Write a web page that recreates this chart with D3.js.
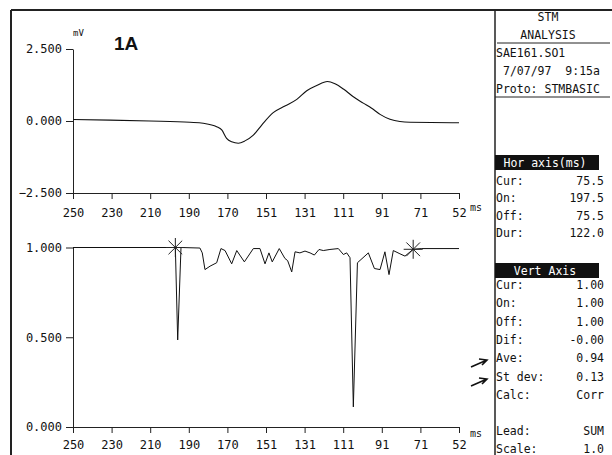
<!DOCTYPE html>
<html>
<head>
<meta charset="UTF-8">
<title>STM analysis 1A</title>
<script src="https://cdn.jsdelivr.net/npm/d3@7"></script>
<style>
body {
  margin: 0;
  background: #fff;
}
text {
  font-family: "DejaVu Sans Mono", monospace;
  fill: #111;
  white-space: pre;
}
.axis path, .axis line {
  stroke: #222;
  stroke-width: 1px;
}
.axis text {
  font-size: 12px;
  fill: #111;
}
.trace {
  fill: none;
  stroke: #111;
  stroke-width: 1.1px;
}
.frame {
  stroke: #222;
  fill: none;
}
.panel text {
  font-size: 11.5px;
}
</style>
</head>
<body>
<svg id="chart" width="612" height="455"></svg>
<script>
// upper trace: signal (mV) against time (ms)
var topMs = [250, 231.0, 210.5, 190.0, 183.2, 176.3, 173.7, 171.2, 168.6, 165.2, 161.8, 157.5, 153.2, 147.3,
  141.3, 135.2, 130.1, 125.0, 119.5, 115.6, 111.3, 106.2, 101.1, 96.8, 92.5, 87.4, 82.3, 77.1, 52];
var topMv = [0.05, 0.03, 0.0, -0.045, -0.08, -0.20, -0.31, -0.60, -0.72, -0.77, -0.69, -0.49, -0.14, 0.29,
  0.52, 0.75, 1.05, 1.23, 1.37, 1.29, 1.11, 0.84, 0.62, 0.44, 0.23, 0.06, -0.02, -0.045, -0.06];

// lower trace: correlation against time (ms)
var corrMs = [250, 197.5, 196.3, 194.6, 184.9, 183.7, 182.3, 179.7, 176.3, 174.1, 172.0, 168.6, 166.0, 162.1,
  157.5, 154.1, 151.5, 149.5, 147.8, 144.2, 141.3, 139.9, 137.8, 136.1, 133.6, 131.0, 128.4, 126.2, 123.8,
  121.6, 118.2, 113.9, 111.3, 109.6, 107.9, 106.2, 104.1, 98.5, 95.4, 92.5, 90.0, 87.9, 85.7, 82.3, 79.7,
  75.5, 71.1, 52];
var corrVal = [1.0, 1.0, 0.485, 1.0, 0.997, 0.97, 0.877, 0.896, 0.915, 0.994, 0.983, 0.909, 0.983, 0.920,
  0.994, 0.994, 0.909, 0.970, 0.920, 0.994, 0.939, 0.927, 0.864, 0.976, 0.970, 0.980, 0.970, 0.958, 0.989,
  0.983, 0.989, 0.994, 0.961, 0.970, 0.943, 0.112, 0.915, 0.970, 0.883, 0.877, 0.976, 0.849, 0.983, 0.965, 0.952,
  0.99, 0.994, 0.994];

// on / off cursors
var markMs = [197.5, 75.5];
var markVal = [1.0, 0.99];

var xTickLabels = ["250", "230", "210", "190", "170", "151", "131", "111", "91", "71", "52"];
var topYTicks = [2.5, 0, -2.5];
var bottomYTicks = [1, 0.5, 0];

var horLabels = ["Cur:", "On:", "Off:", "Dur:"];
var horValues = ["75.5", "197.5", "75.5", "122.0"];
var vertLabels = ["Cur:", "On:", "Off:", "Dif:", "Ave:", "St dev:", "Calc:"];
var vertValues = ["1.00", "1.00", "1.00", "-0.00", "0.94", "0.13", "Corr"];
var leadLabels = ["Lead:", "Scale:"];
var leadValues = ["SUM", "1.0"];

var svg = d3.select("#chart");

var x = d3.scaleLinear().domain([250, 52]).range([73, 459]),
  yTop = d3.scaleLinear().domain([-2.5, 2.5]).range([193, 49]),
  yBot = d3.scaleLinear().domain([0, 1]).range([427, 247.5]);

var xTickVals = xTickLabels.map(function(d, i){ return 250 - i * (250 - 52) / (xTickLabels.length - 1); });

// frame
svg.append("line").attr("class", "frame").attr("x1", 11).attr("x2", 612).attr("y1", 10).attr("y2", 10).style("stroke-width", 2);
svg.append("line").attr("class", "frame").attr("x1", 11).attr("x2", 11).attr("y1", 10).attr("y2", 455).style("stroke-width", 2);
svg.append("line").attr("class", "frame").attr("x1", 495).attr("x2", 495).attr("y1", 10).attr("y2", 455).style("stroke-width", 1.5);

// axes
function xAxis(y0, pad){
  svg.append("g")
    .attr("class", "axis")
    .attr("transform", "translate(0," + y0 + ")")
    .call(d3.axisBottom(x).tickValues(xTickVals).tickSize(6).tickSizeOuter(0).tickPadding(pad)
      .tickFormat(function(d, i){ return xTickLabels[i]; }));
}
function yAxis(scale, ticks){
  svg.append("g")
    .attr("class", "axis")
    .attr("transform", "translate(73,0)")
    .call(d3.axisLeft(scale).tickValues(ticks).tickSize(7).tickSizeOuter(0).tickPadding(4)
      .tickFormat(d3.format(".3f")));
}
xAxis(193, 9);
yAxis(yTop, topYTicks);
xAxis(427, 7);
yAxis(yBot, bottomYTicks);

// traces
svg.append("path")
  .attr("class", "trace")
  .attr("d", d3.line()
    .curve(d3.curveMonotoneX)
    .x(function(d, i){ return x(topMs[i]); })
    .y(function(d, i){ return yTop(topMv[i]); })
    (topMs));

svg.append("path")
  .attr("class", "trace")
  .style("stroke-width", "1px")
  .attr("d", d3.line()
    .x(function(d, i){ return x(corrMs[i]); })
    .y(function(d, i){ return yBot(corrVal[i]); })
    (corrMs));

// asterisk cursors
svg.selectAll(".mark")
  .data(markMs)
  .enter().append("path")
  .attr("class", "mark")
  .style("stroke", "#222")
  .style("stroke-width", 1)
  .attr("d", function(d, i){
    var cx = x(d), cy = yBot(markVal[i]), r = 9.5, q = r * 0.72, p = d3.path();
    p.moveTo(cx - r, cy); p.lineTo(cx + r, cy);
    p.moveTo(cx, cy - r); p.lineTo(cx, cy + r);
    p.moveTo(cx - q, cy - q); p.lineTo(cx + q, cy + q);
    p.moveTo(cx - q, cy + q); p.lineTo(cx + q, cy - q);
    return p.toString();
  });

// unit labels
svg.append("text").attr("x", 73).attr("y", 36).style("font-size", "9px").text("mV");
svg.append("text").attr("x", 470).attr("y", 211).style("font-size", "10px").text("ms");
svg.append("text").attr("x", 470).attr("y", 437).style("font-size", "10px").text("ms");
svg.append("text").attr("x", 114).attr("y", 50)
  .style("font-family", "'Liberation Sans', Arial, sans-serif")
  .style("font-weight", "bold").style("font-size", "19px").text("1A");

// arrows pointing at Ave / St dev
[360, 379].forEach(function(ay){
  svg.append("path")
    .attr("d", "M471," + (ay + 7) + "L487," + ay + "M479," + (ay - 1) + "L487," + ay + "L482," + (ay + 5))
    .style("fill", "none").style("stroke", "#111").style("stroke-width", 1.6);
});

// side panel
var panel = svg.append("g").attr("class", "panel");
panel.append("text").attr("x", 548).attr("y", 21).attr("text-anchor", "middle").text("STM");
panel.append("text").attr("x", 548).attr("y", 39).attr("text-anchor", "middle").text("ANALYSIS");
panel.append("line").attr("x1", 497).attr("x2", 610).attr("y1", 43).attr("y2", 43).style("stroke", "#222");
panel.append("text").attr("x", 496).attr("y", 57).text("SAE161.SO1");
panel.append("text").attr("x", 503).attr("y", 75).text("7/07/97  9:15a");
panel.append("text").attr("x", 496).attr("y", 93).text("Proto: STMBASIC");
panel.append("line").attr("x1", 495).attr("x2", 610).attr("y1", 97).attr("y2", 97).style("stroke", "#222");

function header(y0, label){
  panel.append("rect").attr("x", 495).attr("y", y0).attr("width", 104).attr("height", 15).style("fill", "#111");
  panel.append("text").attr("x", 545).attr("y", y0 + 12).attr("text-anchor", "middle").style("fill", "#fff").text(label);
}
function rows(labels, values, y0, step){
  labels.forEach(function(l, i){
    panel.append("text").attr("x", 496).attr("y", y0 + i * step).text(l);
    panel.append("text").attr("x", 604).attr("y", y0 + i * step).attr("text-anchor", "end").text(values[i]);
  });
}
header(155, "Hor axis(ms)");
rows(horLabels, horValues, 185, 17.3);
header(263, "Vert Axis");
rows(vertLabels, vertValues, 289, 18.3);
rows(leadLabels, leadValues, 435, 17.5);
</script>
</body>
</html>
